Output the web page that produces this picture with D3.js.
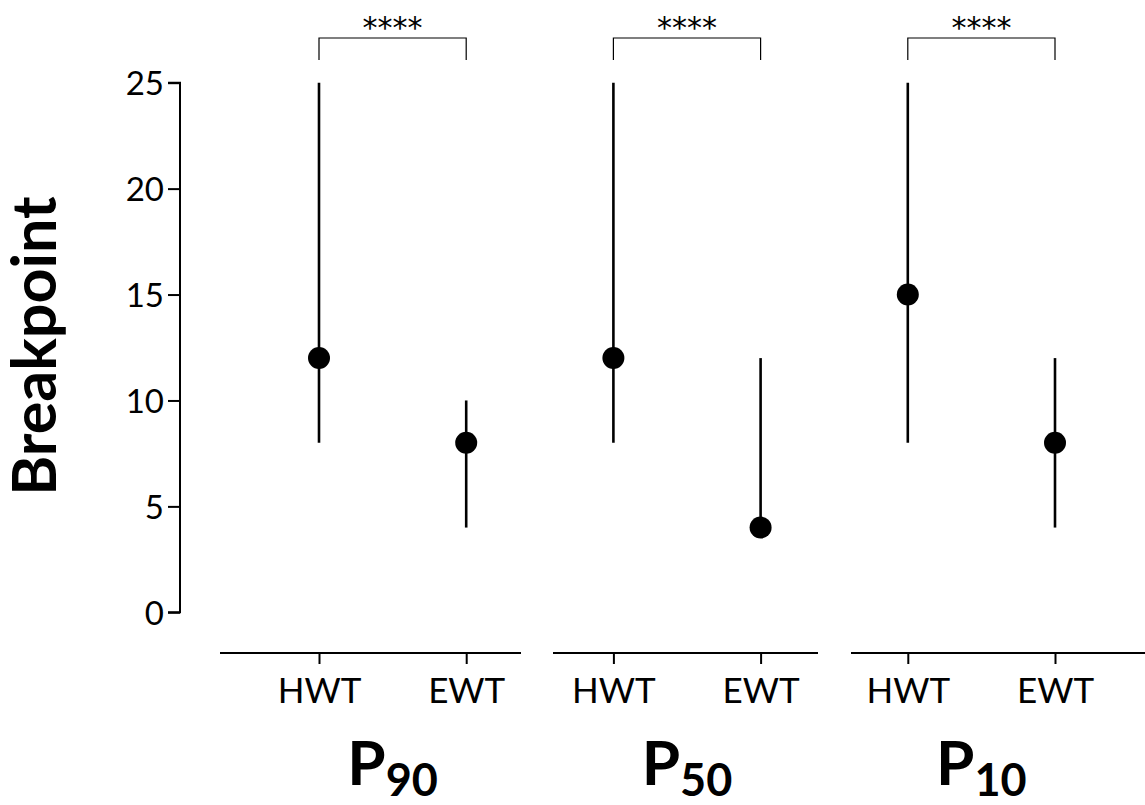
<!DOCTYPE html>
<html>
<head>
<meta charset="utf-8">
<script src="https://cdn.jsdelivr.net/npm/d3@7"></script>
<style>
  html, body { margin: 0; padding: 0; background: #fff; }
  svg { display: block; font-family: Lato, "Open Sans", sans-serif; }
</style>
</head>
<body>
<svg id="chart"></svg>
<script>
// panel names (subscript of P) and groups inside each panel
const panels = ["90", "50", "10"];
const groups = ["HWT", "EWT"];

// point estimate and range for each group, one entry per panel
const hwtMid = [12, 12, 15];
const hwtLow = [8, 8, 8];
const hwtHigh = [25, 25, 25];
const ewtMid = [8, 4, 8];
const ewtLow = [4, 4, 4];
const ewtHigh = [10, 12, 12];

const sigLabels = ["****", "****", "****"];
const yTicks = [0, 5, 10, 15, 20, 25];

const w = 1145;
const h = 805;

const svg = d3.select("#chart").attr("width", w).attr("height", h);

// one flat row per point
const rows = [];
panels.forEach((p, i) => {
  rows.push({ panel: p, group: "HWT", mid: hwtMid[i], low: hwtLow[i], high: hwtHigh[i] });
  rows.push({ panel: p, group: "EWT", mid: ewtMid[i], low: ewtLow[i], high: ewtHigh[i] });
});
const key = (d) => d.panel + "_" + d.group;

const x = d3.scalePoint()
  .domain(rows.map(key))
  .range([319, 1055]);

const y = d3.scaleLinear().domain([0, 25]).range([612.3, 82.7]);

// y axis
const yAxis = svg.append("g")
  .attr("transform", "translate(180,0)")
  .call(d3.axisLeft(y).tickValues(yTicks).tickSize(12).tickPadding(4));
yAxis.select(".domain").attr("stroke", "#000").attr("stroke-width", 2)
  .attr("d", `M-12,${y(25)}H0V${y(0)}H-12`);
yAxis.selectAll(".tick line").attr("stroke", "#000").attr("stroke-width", 2);
yAxis.selectAll(".tick text")
  .attr("fill", "#000")
  .style("font-size", "33px")
  .style("font-family", "Lato")
  .attr("dy", "0.36em");

svg.append("text")
  .attr("transform", `translate(56,346) rotate(-90)`)
  .attr("text-anchor", "middle")
  .style("font-size", "61px")
  .style("font-weight", "bold")
  .text("Breakpoint");

// per-panel x axes
const axisSpans = [[220, 521], [553, 818], [851, 1146]];
const axisY = 653;

panels.forEach((p, i) => {
  const g = svg.append("g").attr("transform", `translate(0,${axisY})`);
  const sub = rows.filter((d) => d.panel === p);
  const ax = d3.axisBottom(x).tickValues(sub.map(key))
    .tickSize(11).tickPadding(14)
    .tickFormat((k) => k.split("_")[1]);
  g.call(ax);
  g.select(".domain").attr("stroke", "#000").attr("stroke-width", 2)
    .attr("d", `M${axisSpans[i][0]},0H${axisSpans[i][1]}`);
  g.selectAll(".tick line").attr("stroke", "#000").attr("stroke-width", 2);
  g.selectAll(".tick text").attr("fill", "#000")
    .style("font-size", "35px").style("font-family", "Lato");

  // facet label P with subscript
  const cx = (x(p + "_HWT") + x(p + "_EWT")) / 2;
  const lab = svg.append("text")
    .attr("x", cx)
    .attr("y", 785)
    .attr("text-anchor", "middle")
    .style("font-weight", "bold");
  lab.append("tspan").style("font-size", "62px").text("P");
  lab.append("tspan").style("font-size", "45px").attr("dy", 11).text(p);

  // significance bracket
  const x1 = x(p + "_HWT");
  const x2 = x(p + "_EWT");
  svg.append("path")
    .attr("d", `M${x1},60V38H${x2}V60`)
    .attr("fill", "none")
    .attr("stroke", "#000")
    .attr("stroke-width", 1.2);
  svg.append("text")
    .attr("x", (x1 + x2) / 2)
    .attr("y", 38)
    .attr("text-anchor", "middle")
    .style("font-family", "DejaVu Sans")
    .style("font-size", "30px")
    .text(sigLabels[i]);
});

// ranges
svg.selectAll("line.range")
  .data(rows)
  .enter()
  .append("line")
  .attr("class", "range")
  .attr("x1", (d) => x(key(d)))
  .attr("x2", (d) => x(key(d)))
  .attr("y1", (d) => y(d.low))
  .attr("y2", (d) => y(d.high))
  .attr("stroke", "#000")
  .attr("stroke-width", 2.6);

// points
svg.selectAll("circle.pt")
  .data(rows)
  .enter()
  .append("circle")
  .attr("class", "pt")
  .attr("cx", (d) => x(key(d)))
  .attr("cy", (d) => y(d.mid))
  .attr("r", 11)
  .attr("fill", "#000");
</script>
</body>
</html>
